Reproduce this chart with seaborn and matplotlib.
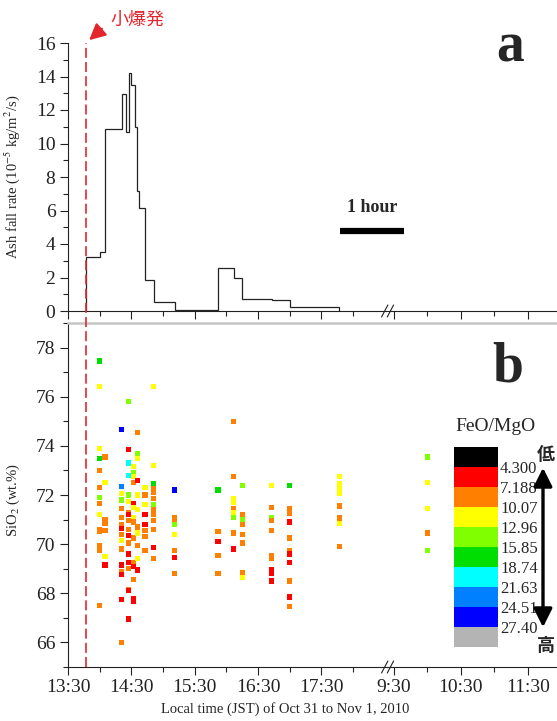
import numpy as np
import pandas as pd
import matplotlib
matplotlib.use("Agg")
import matplotlib.pyplot as plt
import matplotlib.transforms as mtransforms
import seaborn as sns
from matplotlib.colors import ListedColormap, BoundaryNorm
from matplotlib.lines import Line2D
from matplotlib.patches import FancyArrowPatch
from matplotlib.ticker import FixedLocator, MultipleLocator

# --- data -------------------------------------------------------------
# small eruption time
eruption = "10/31 13:47"

# (a) ash fall rate, 10^-5 kg/m2/s, step between sampling times
ash_edges = ["10/31 13:47", "10/31 14:00", "10/31 14:05", "10/31 14:21", "10/31 14:25",
             "10/31 14:28", "10/31 14:30", "10/31 14:33", "10/31 14:35", "10/31 14:37",
             "10/31 14:43", "10/31 14:51", "10/31 15:11", "10/31 15:52", "10/31 16:07",
             "10/31 16:15", "10/31 16:43", "10/31 17:00", "10/31 17:47"]
ash_rate = [3.23, 3.53, 10.86, 12.95, 10.66, 14.2, 13.5, 10.96, 7.17, 6.13,
            1.84, 0.54, 0.05, 2.57, 1.98, 0.74, 0.68, 0.26]

# (b) SiO2 of glass per sample, with FeO/MgO class
# classes: R red, O orange, Y yellow, L yellow-green, G green, C cyan, S sky blue, B blue
sample_times = ["10/31 14:00", "10/31 14:05", "10/31 14:21", "10/31 14:27", "10/31 14:32",
                "10/31 14:36", "10/31 14:43", "10/31 14:51", "10/31 15:11", "10/31 15:52",
                "10/31 16:07", "10/31 16:15", "10/31 16:43", "10/31 17:00", "10/31 17:47",
                "11/01 10:00"]
sio2_by_sample = [
    [77.45, 76.4, 73.9, 73.5, 73.0, 72.3, 71.9, 71.65, 71.2, 70.6, 70.5, 69.95, 69.75, 67.5],
    [73.55, 72.5, 71.0, 70.85, 70.55, 69.5, 69.15],
    [74.65, 72.35, 72.05, 71.8, 71.45, 71.1, 70.8, 70.65, 70.4, 70.15, 69.8, 69.15, 68.9, 68.75, 67.75, 66.0],
    [75.8, 73.85, 73.3, 72.8, 72.0, 71.75, 71.3, 71.2, 70.95, 70.6, 70.35, 70.05, 69.6, 69.25, 69.0, 68.15, 68.1, 66.95],
    [73.15, 72.9, 72.75, 72.5, 71.65, 71.5, 71.1, 70.9, 70.25, 69.25, 69.1, 68.55, 67.8, 67.65],
    [74.55, 73.7, 73.5, 72.6, 72.0, 71.4, 70.7, 70.45, 69.95, 69.4, 68.95],
    [72.3, 72.0, 71.6, 71.2, 70.8, 70.55, 70.3, 69.75],
    [76.4, 73.2, 72.45, 72.25, 72.1, 71.85, 71.6, 71.4, 71.2, 70.95, 70.6, 69.85, 69.4],
    [72.2, 71.1, 70.95, 70.8, 70.4, 69.75, 69.45, 68.8],
    [72.2, 70.5, 70.1, 69.55, 68.8],
    [75.0, 72.75, 71.85, 71.7, 71.45, 71.3, 71.1, 70.45, 69.8],
    [72.4, 71.2, 71.0, 70.8, 70.4, 70.05, 68.85, 68.65],
    [72.4, 71.5, 71.1, 70.95, 70.55, 69.55, 69.4, 68.95, 68.8, 68.5],
    [72.4, 71.45, 71.25, 70.9, 70.25, 69.75, 69.6, 69.25, 68.5, 67.85, 67.45],
    [72.75, 72.45, 72.25, 72.05, 71.55, 71.1, 71.0, 70.85, 69.9],
    [73.55, 72.5, 71.45, 70.45, 69.75],
]
feo_class_by_sample = ["GYYGOOLOYOOOOO", "OYOOOYR", "BSYLOOOROYORORRO", "LRCCLYOROORORROORR",
                       "YLYORYYOOORORR", "OLYRYYOYOYR", "YOYRROOO", "YYGOOOLOOOORO",
                       "BOOLYORO", "GOROO", "OOYYOYLOR", "LOLOOOOY", "YOLOOOORRR",
                       "GOOROORRORO", "YYYYOOOYO", "LYYOL"]
class_ratio = {"R": 5.7, "O": 8.6, "Y": 11.5, "L": 14.4, "G": 17.3, "C": 20.2, "S": 23.1, "B": 26.0}

# FeO/MgO colour scale
feo_bounds = [1.41, 4.300, 7.188, 10.07, 12.96, 15.85, 18.74, 21.63, 24.51, 27.40, 30.29]
feo_labels = ["4.300", "7.188", "10.07", "12.96", "15.85", "18.74", "21.63", "24.51", "27.40"]
feo_colors = ["#000000", "#ff0000", "#ff8000", "#ffff00", "#80ff00", "#00dd00",
              "#00ffff", "#0080ff", "#0000ff", "#b4b4b4"]

major_ticks = ["10/31 13:30", "10/31 14:30", "10/31 15:30", "10/31 16:30", "10/31 17:30",
               "11/01 9:30", "11/01 10:30", "11/01 11:30"]
minor_ticks = ["10/31 14:00", "10/31 15:00", "10/31 16:00", "10/31 17:00", "10/31 18:00",
               "11/01 10:00", "11/01 11:00"]


def t_axis(stamp):
    # Oct 31 afternoon, axis break, then Nov 1 morning
    day, hm = stamp.split()
    h, m = hm.split(":")
    hours = int(h) + int(m) / 60
    if day == "10/31":
        return hours - 13.5
    return 5.67 + 1.06 * (hours - 10.0)


rows = []
for stamp, vals, codes in zip(sample_times, sio2_by_sample, feo_class_by_sample):
    for v, c in zip(vals, codes):
        rows.append({"t": t_axis(stamp), "SiO2": v, "FeO/MgO": class_ratio[c]})
df = pd.DataFrame(rows)

cmap = ListedColormap(feo_colors)
norm = BoundaryNorm(feo_bounds, cmap.N)

# --- figure -----------------------------------------------------------
sns.set_style("ticks")
plt.rcParams["font.family"] = ["Liberation Serif", "Noto Sans CJK JP"]
plt.rcParams["mathtext.fontset"] = "stix"

W, H = 557, 721
fig = plt.figure(figsize=(W / 100, H / 100), dpi=100)


def fx(px):
    return px / W


def fy(py):
    return 1 - py / H


ax_a = fig.add_axes([fx(68), fy(311), fx(557 - 68), (311 - 43) / H])
ax_b = fig.add_axes([fx(68), fy(667), fx(557 - 68), (667 - 323) / H])
xmax = 7.72

# (a) ash fall rate
ax_a.stairs(ash_rate, [t_axis(s) for s in ash_edges], baseline=0, color="#222222", lw=0.9)
ax_a.set_xlim(0, xmax)
ax_a.set_ylim(0, 16)
ax_a.yaxis.set_major_locator(MultipleLocator(2))
ax_a.yaxis.set_minor_locator(MultipleLocator(1))
ax_a.set_ylabel(r"Ash fall rate (10$^{-5}$ kg/m$^2$/s)", fontsize=10.5)
ax_a.yaxis.set_label_coords(-0.094, 0.5)

# (b) SiO2 scatter
sns.scatterplot(data=df, x="t", y="SiO2", hue="FeO/MgO", palette=cmap, hue_norm=norm,
                marker="s", s=14, linewidth=0, legend=False, ax=ax_b)
ax_b.set_xlim(0, xmax)
ax_b.set_ylim(65, 79)
ax_b.yaxis.set_major_locator(FixedLocator(np.arange(66, 79, 2)))
ax_b.yaxis.set_minor_locator(FixedLocator(np.arange(65, 80, 2)))
ax_b.set_ylabel(r"SiO$_2$ (wt.%)", fontsize=10.5)
ax_b.yaxis.set_label_coords(-0.094, 0.485)
ax_b.set_xlabel("Local time (JST) of Oct 31 to Nov 1, 2010", fontsize=10.5)
ax_b.xaxis.set_label_coords(0.444, -0.102)

for ax in (ax_a, ax_b):
    ax.xaxis.set_major_locator(FixedLocator([t_axis(s) for s in major_ticks]))
    ax.xaxis.set_minor_locator(FixedLocator([t_axis(s) for s in minor_ticks]))
    ax.tick_params(which="major", direction="out", length=6, width=0.8, colors="#222222",
                   labelsize=14, pad=3)
    ax.tick_params(which="minor", direction="out", length=3.5, width=0.8, colors="#222222")
    ax.spines["right"].set_visible(False)
    ax.spines["left"].set_color("#222222")
    ax.spines["bottom"].set_color("#222222")
    ax.spines["left"].set_linewidth(0.8)
    ax.spines["bottom"].set_linewidth(0.8)

ax_a.spines["top"].set_visible(False)
ax_a.tick_params(axis="x", labelbottom=False)
ax_b.spines["top"].set_color("#c4c4c4")
ax_b.spines["top"].set_linewidth(1.8)
ax_b.set_xticklabels([s.split()[1] for s in major_ticks])

# axis break marks
for ax, hpx in ((ax_a, 268), (ax_b, 344)):
    dy = 6 / hpx
    for xc in (5.0, 5.09):
        ax.plot([xc - 0.05, xc + 0.05], [-dy, dy], color="#222222", lw=0.8,
                transform=ax.get_xaxis_transform(), clip_on=False)

# 1 hour scale bar
ax_a.plot([4.3, 5.3], [4.78, 4.78], color="black", lw=4.5, solid_capstyle="butt")
ax_a.text(4.8, 6.2, "1 hour", ha="center", va="center", fontsize=13, fontweight="bold")

# eruption line across both panels
x_er = t_axis(eruption)
trans = mtransforms.blended_transform_factory(ax_b.transData, fig.transFigure)
fig.add_artist(Line2D([x_er, x_er], [fy(667), fy(43)], transform=trans,
                      color="#e3262c", lw=1.2, ls=(0, (6, 2.5))))
fig.add_artist(FancyArrowPatch((fx(104), fy(27)), (fx(87), fy(42)), transform=fig.transFigure,
                               arrowstyle="-|>,head_length=0.7,head_width=0.35",
                               mutation_scale=14, lw=1.6, color="#e3262c"))
fig.text(fx(137), fy(20), "小爆発", color="#e3262c", fontsize=13, ha="center", va="center",
         family=["Noto Sans CJK JP"])

# panel letters
fig.text(fx(510), fy(48), "a", fontsize=40, fontweight="bold", ha="center", va="center")
fig.text(fx(508), fy(368), "b", fontsize=40, fontweight="bold", ha="center", va="center")

# FeO/MgO colour bar
cax = fig.add_axes([fx(454), fy(647), fx(44), 200 / H])
sm = plt.cm.ScalarMappable(norm=norm, cmap=cmap)
cb = fig.colorbar(sm, cax=cax, ticks=feo_bounds[1:-1])
cb.minorticks_off()
cb.ax.set_yticklabels(feo_labels)
cb.outline.set_visible(False)
cax.invert_yaxis()
cax.tick_params(which="both", length=0, pad=1.5, labelsize=12)
fig.text(fx(495), fy(427), "FeO/MgO", fontsize=14, ha="center", va="center")

fig.add_artist(FancyArrowPatch((fx(543), fy(630)), (fx(543), fy(465)), transform=fig.transFigure,
                               arrowstyle="<|-|>,head_length=0.8,head_width=0.4",
                               mutation_scale=14, lw=2.4, color="black"))
fig.text(fx(546), fy(454), "低", fontsize=13, fontweight="bold", ha="center", va="center",
         family=["Noto Sans CJK JP"])
fig.text(fx(546), fy(645), "高", fontsize=13, fontweight="bold", ha="center", va="center",
         family=["Noto Sans CJK JP"])

fig.savefig("out.png", dpi=100)
